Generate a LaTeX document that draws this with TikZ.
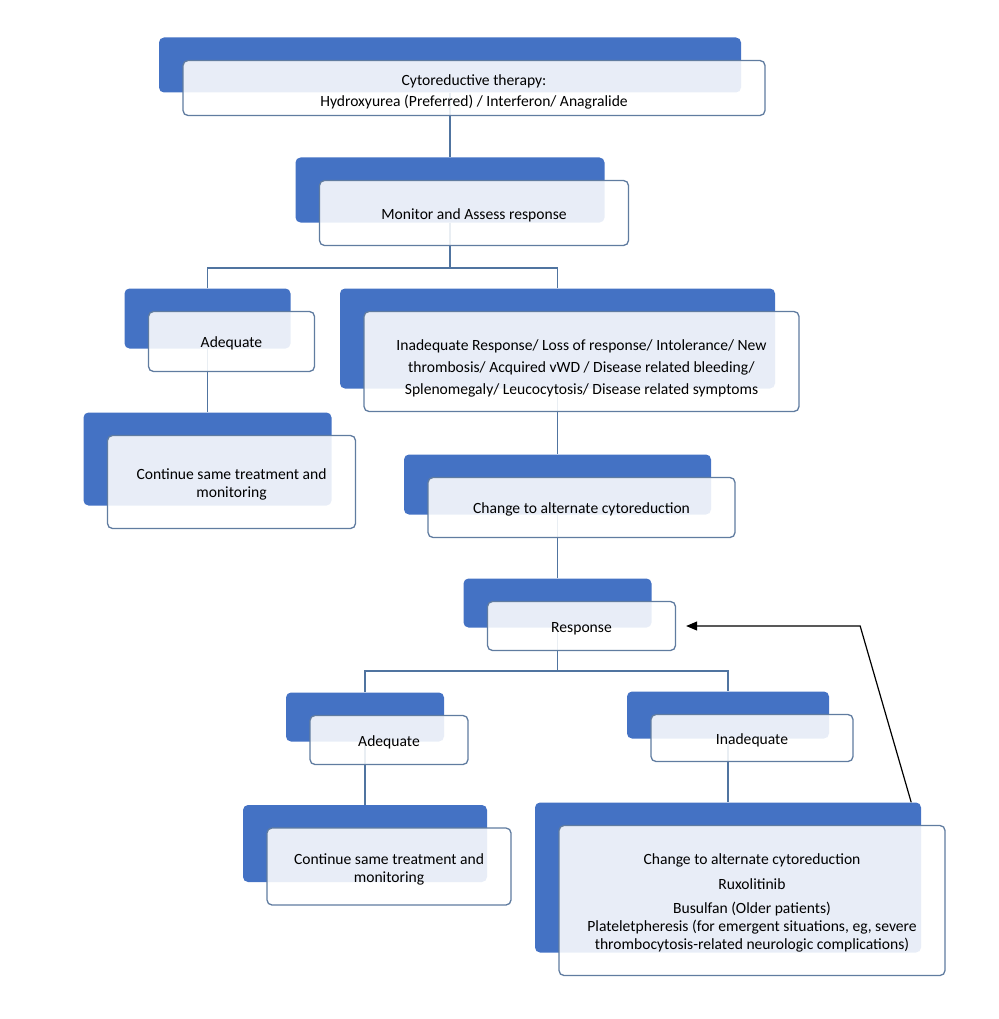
\documentclass[tikz,border=0pt]{standalone}
\usepackage{fontspec}
\setmainfont{Carlito}
\usepackage{xcolor}
\usepackage{tikz}
\usetikzlibrary{positioning,arrows.meta,calc}

\definecolor{tabblue}{RGB}{68,114,196}
\definecolor{cardedge}{RGB}{96,124,160}
\definecolor{linkblue}{RGB}{80,116,160}
\pgfdeclarelayer{back}
\pgfsetlayers{back,main}
\newcommand{\lift}[1]{\rule{0pt}{#1}}

\begin{document}
\begin{tikzpicture}[x=1pt, y=-1pt,
        every node/.style={font=\fontsize{15.6}{18}\selectfont},
        tab/.style={fill=tabblue, rounded corners=5pt, inner sep=0pt},
        card/.style={draw=cardedge, line width=1.3pt, fill=white, fill opacity=0.88, text opacity=1,
                     rounded corners=5pt, align=center, inner sep=0pt, xshift=24pt, yshift=-23pt,
                     execute at begin node={\lift{#1}}},
        card/.default=15pt,
        link/.style={draw=linkblue, line width=1.5pt}]
        \useasboundingbox (0,0) rectangle (998,1019);

        \node[tab,  minimum width=582pt, minimum height=55pt]  (tab_1)  at (450,65)      {};
        \node[card, minimum width=582pt, minimum height=55pt]  (card_1) at (tab_1)       {\lift{19pt}Cytoreductive therapy:\\[3pt]Hydroxyurea (Preferred) / Interferon/ Anagralide};
        \node[tab,  minimum width=309pt, minimum height=65pt]  (tab_2)  at (450,190)     {};
        \node[card, minimum width=309pt, minimum height=65pt]  (card_2) at (tab_2)       {Monitor and Assess response};
        \node[tab,  minimum width=166pt, minimum height=60pt]  (tab_3)  at (207.5,318.5) {};
        \node[card, minimum width=166pt, minimum height=60pt]  (card_3) at (tab_3)       {Adequate};
        \node[tab,  minimum width=435pt, minimum height=100pt] (tab_4)  at (557.5,338.5) {};
        \node[card, minimum width=435pt, minimum height=100pt] (card_4) at (tab_4)       {\lift{25pt}Inadequate Response/ Loss of response/ Intolerance/ New\\[4pt]thrombosis/ Acquired vWD / Disease related bleeding/\\[4pt]Splenomegaly/ Leucocytosis/ Disease related symptoms};
        \node[tab,  minimum width=248pt, minimum height=93pt]  (tab_5)  at (207.5,459)   {};
        \node[card, minimum width=248pt, minimum height=93pt]  (card_5) at (tab_5)       {\lift{16pt}Continue same treatment and\\monitoring};
        \node[tab,  minimum width=307pt, minimum height=60pt]  (tab_6)  at (557.5,484.5) {};
        \node[card, minimum width=307pt, minimum height=60pt]  (card_6) at (tab_6)       {Change to alternate cytoreduction};
        \node[tab,  minimum width=188pt, minimum height=49pt]  (tab_7)  at (557.5,603)   {};
        \node[card, minimum width=188pt, minimum height=49pt]  (card_7) at (tab_7)       {Response};
        \node[tab,  minimum width=158pt, minimum height=49pt]  (tab_8)  at (365,717)     {};
        \node[card, minimum width=158pt, minimum height=49pt]  (card_8) at (tab_8)       {Adequate};
        \node[tab,  minimum width=202pt, minimum height=47pt]  (tab_9)  at (728,715)     {};
        \node[card, minimum width=202pt, minimum height=47pt]  (card_9) at (tab_9)       {Inadequate};
        \node[tab,  minimum width=244pt, minimum height=77pt]  (tab_10) at (365,843.5)   {};
        \node[card, minimum width=244pt, minimum height=77pt]  (card_10) at (tab_10)     {\lift{16pt}Continue same treatment and\\monitoring};
        \node[tab,  minimum width=386pt, minimum height=150pt] (tab_11) at (728,877.5)   {};
        \node[card, minimum width=386pt, minimum height=150pt] (card_11) at (tab_11)     {\lift{15pt}Change to alternate cytoreduction\\[7pt]Ruxolitinib\\[6pt]Busulfan (Older patients)\\Plateletpheresis (for emergent situations, eg, severe\\thrombocytosis-related neurologic complications)};

        % tree lines sit behind the boxes
        \begin{pgfonlayer}{back}
        \path (tab_2) ++(0,78) coordinate (fork_1)
              (tab_7) ++(0,68) coordinate (fork_2);
        \draw[link] (tab_1) -- (tab_2) -- (fork_1);
        \draw[link] (tab_3) |- (fork_1) -| (tab_4);
        \draw[link] (tab_3) -- (tab_5);
        \draw[link] (tab_4) -- (tab_6) -- (tab_7) -- (fork_2);
        \draw[link] (tab_8) |- (fork_2) -| (tab_9);
        \draw[link] (tab_8) -- (tab_10);
        \draw[link] (tab_9) -- (tab_11);
        \end{pgfonlayer}

        \coordinate (turn) at ($(card_7.east)+(184,0)$);
        \draw[-{Triangle[length=11pt,width=9pt]}, line width=1.2pt]
            ([xshift=-10pt]tab_11.north east) -- (turn) -- ([xshift=10pt]card_7.east);
\end{tikzpicture}
\end{document}
